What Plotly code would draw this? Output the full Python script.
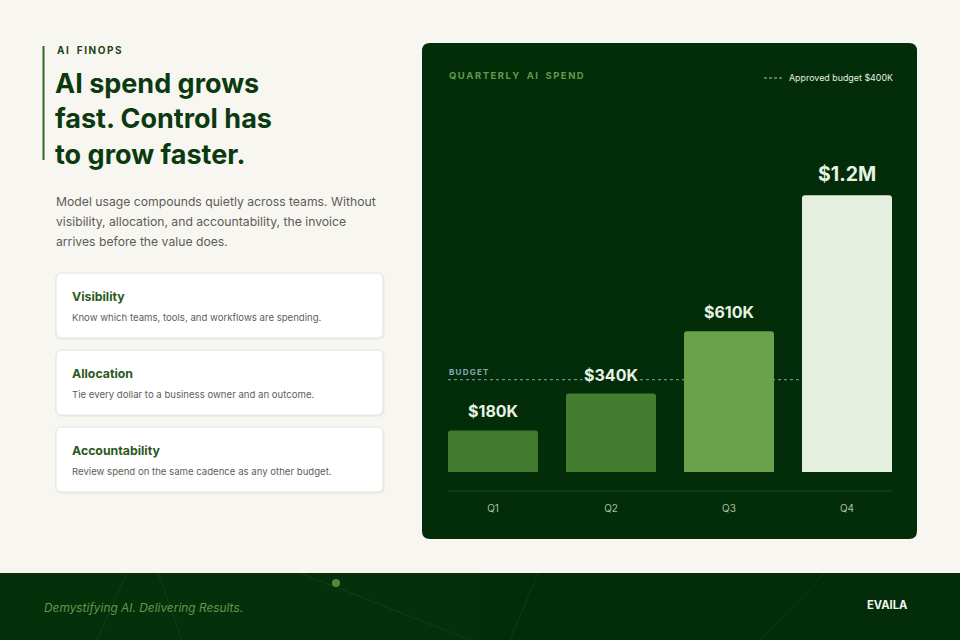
import plotly.graph_objects as go

# ---- data ----
quarters = ["Q1", "Q2", "Q3", "Q4"]
spend_k = [180, 340, 610, 1200]
spend_labels = ["$180K", "$340K", "$610K", "$1.2M"]
label_sizes = [16, 16, 16, 19.5]
budget_k = 400
bar_colors = ["#417a2e", "#437d2f", "#6aa24b", "#e4efdf"]

cards = [
    ("Visibility", "Know which teams, tools, and workflows are spending."),
    ("Allocation", "Tie every dollar to a business owner and an outcome."),
    ("Accountability", "Review spend on the same cadence as any other budget."),
]
title_lines = ["AI spend grows", "fast. Control has", "to grow faster."]
para_lines = [
    "Model usage compounds quietly across teams. Without",
    "visibility, allocation, and accountability, the invoice",
    "arrives before the value does.",
]

W, H = 960, 640
FONT = "Inter"
PANEL = "#032d08"


def px(x):
    return x / W


def py(y):
    return 1 - y / H


def rrect(x0, y0, x1, y1, r):
    rx, ry = r / W, r / H
    X0, X1 = px(x0), px(x1)
    Y0, Y1 = py(y0), py(y1)
    return (f"M {X0+rx},{Y0} L {X1-rx},{Y0} Q {X1},{Y0} {X1},{Y0-ry} "
            f"L {X1},{Y1+ry} Q {X1},{Y1} {X1-rx},{Y1} L {X0+rx},{Y1} "
            f"Q {X0},{Y1} {X0},{Y1+ry} L {X0},{Y0-ry} Q {X0},{Y0} {X0+rx},{Y0} Z")


def spaced(s, sep):
    return sep.join(list(s)).replace(" ", "  ")


fig = go.Figure()
bw = 0.7627
fig.add_trace(go.Bar(
    x=list(range(len(quarters))), y=spend_k, width=bw,
    marker=dict(color=bar_colors, line=dict(width=0), cornerradius=3),
    hoverinfo="skip", showlegend=False,
))

shapes = []
annotations = []

# footer band
shapes.append(dict(type="rect", xref="paper", yref="paper", x0=0, x1=1, y0=0, y1=py(573),
                   fillcolor="#032c08", line=dict(width=0), layer="below"))
shapes.append(dict(type="rect", xref="paper", yref="paper", x0=px(0), x1=px(480), y0=0, y1=py(573),
                   fillcolor="rgba(10,60,15,0.25)", line=dict(width=0), layer="below"))
for (a, b, c, d) in [(127, 573, 97, 640), (158, 573, 182, 640), (300, 573, 470, 640),
                     (538, 573, 510, 640), (825, 573, 760, 640)]:
    shapes.append(dict(type="line", xref="paper", yref="paper", x0=px(a), y0=py(b), x1=px(c), y1=py(d),
                       line=dict(color="rgba(120,170,110,0.12)", width=1), layer="below"))
shapes.append(dict(type="circle", xref="paper", yref="paper", x0=px(332), x1=px(340), y0=py(579), y1=py(587),
                   fillcolor="#4f8a3c", line=dict(width=0), layer="below"))

# left accent bar
shapes.append(dict(type="rect", xref="paper", yref="paper", x0=px(42.5), x1=px(44.5), y0=py(160), y1=py(46),
                   fillcolor="#2f6a24", line=dict(width=0), layer="below"))

# cards
card_tops = [273, 350, 427]
for i, (t, d) in enumerate(cards):
    y0 = card_tops[i]
    shapes.append(dict(type="path", xref="paper", yref="paper", path=rrect(55, y0 + 1, 385, y0 + 67, 7),
                       fillcolor="rgba(0,0,0,0.035)", line=dict(width=0), layer="below"))
    shapes.append(dict(type="path", xref="paper", yref="paper", path=rrect(56, y0, 383, y0 + 65, 6),
                       fillcolor="#ffffff", line=dict(color="#e3e3de", width=1), layer="below"))
    annotations.append(dict(text=f"<b>{t}</b>", x=px(70), y=py(y0 + 23), xref="paper", yref="paper",
                            xanchor="left", yanchor="middle", showarrow=False,
                            font=dict(family=FONT, size=12.3, color="#2a5a1d")))
    annotations.append(dict(text=d, x=px(70), y=py(y0 + 44), xref="paper", yref="paper",
                            xanchor="left", yanchor="middle", showarrow=False,
                            font=dict(family=FONT, size=9.6, color="#5e5e5a")))

# chart panel
shapes.append(dict(type="path", xref="paper", yref="paper", path=rrect(422, 43, 917, 539, 8),
                   fillcolor=PANEL, line=dict(width=0), layer="below"))
# budget line
shapes.append(dict(type="line", xref="paper", yref="y", x0=px(448), x1=px(892), y0=budget_k, y1=budget_k,
                   line=dict(color="#7fa6b4", width=1, dash="3px,3px"), layer="below"))
# axis line
shapes.append(dict(type="line", xref="paper", yref="paper", x0=px(448), x1=px(892), y0=py(491), y1=py(491),
                   line=dict(color="#1d4a1c", width=1), layer="below"))
# legend dash
shapes.append(dict(type="line", xref="paper", yref="paper", x0=px(764), x1=px(782), y0=py(78), y1=py(78),
                   line=dict(color="#a9c2b0", width=1, dash="3px,2px")))

# texts left
annotations.append(dict(text=f"<b>{spaced('AI FINOPS', chr(8202) + chr(8202))}</b>",
                        x=px(55), y=py(50), xref="paper", yref="paper",
                        xanchor="left", yanchor="middle", showarrow=False,
                        font=dict(family=FONT, size=10, color="#1d4414")))
for i, line in enumerate(title_lines):
    annotations.append(dict(text=f"<b>{line}</b>", x=px(53), y=py(84 + 35 * i), xref="paper", yref="paper",
                            xanchor="left", yanchor="middle", showarrow=False,
                            font=dict(family=FONT, size=27, color="#0c3a10")))
for i, line in enumerate(para_lines):
    annotations.append(dict(text=line, x=px(54), y=py(201 + 20 * i), xref="paper", yref="paper",
                            xanchor="left", yanchor="middle", showarrow=False,
                            font=dict(family=FONT, size=12.2, color="#5c5c58")))

# chart texts
annotations.append(dict(text=f"<b>{spaced('QUARTERLY AI SPEND', chr(8202) + chr(8202))}</b>",
                        x=px(447), y=py(75), xref="paper", yref="paper",
                        xanchor="left", yanchor="middle", showarrow=False,
                        font=dict(family=FONT, size=9.5, color="#5f9a48")))
annotations.append(dict(text=f"Approved budget ${budget_k}K", x=px(787), y=py(78), xref="paper", yref="paper",
                        xanchor="left", yanchor="middle", showarrow=False,
                        font=dict(family=FONT, size=8.9, color="#e6efe2")))
annotations.append(dict(text=f"<b>{spaced('BUDGET', chr(8202) + chr(8202))}</b>", x=px(447), y=budget_k,
                        xref="paper", yref="y", xanchor="left", yanchor="bottom", yshift=1, showarrow=False,
                        font=dict(family=FONT, size=8, color="#8aaabb")))
for i, (v, lab) in enumerate(zip(spend_k, spend_labels)):
    annotations.append(dict(text=f"<b>{lab}</b>", x=i, y=v, xref="x", yref="y",
                            xanchor="center", yanchor="bottom", yshift=7, showarrow=False,
                            bgcolor=PANEL, borderpad=1,
                            font=dict(family=FONT, size=label_sizes[i], color="#e8f2e4")))

# footer texts
annotations.append(dict(text="<i>Demystifying AI. Delivering Results.</i>", x=px(42), y=py(607),
                        xref="paper", yref="paper", xanchor="left", yanchor="middle", showarrow=False,
                        font=dict(family=FONT, size=11.9, color="#5f9a48")))
annotations.append(dict(text="<b>EVAILA</b>", x=px(910), y=py(605), xref="paper", yref="paper",
                        xanchor="right", yanchor="middle", showarrow=False,
                        font=dict(family=FONT, size=11.2, color="#f2f5ee")))

fig.update_layout(
    width=W, height=H, margin=dict(l=0, r=0, t=0, b=0),
    paper_bgcolor="#f8f6f1", plot_bgcolor="rgba(0,0,0,0)",
    shapes=shapes, annotations=annotations, showlegend=False,
    xaxis=dict(domain=[px(448), px(892)], range=[-bw / 2, 3 + bw / 2],
               tickvals=list(range(len(quarters))), ticktext=quarters,
               ticks="outside", ticklen=27, tickcolor="rgba(0,0,0,0)",
               showgrid=False, zeroline=False, showline=False, fixedrange=True,
               tickfont=dict(family=FONT, size=10, color="#a8c0a0")),
    yaxis=dict(domain=[py(472), py(149)], range=[0, 1400], visible=False, fixedrange=True),
    font=dict(family=FONT),
)

fig.write_html("out.html", config={"displayModeBar": False},
               post_script="document.body.style.margin='0';document.body.style.background='#f8f6f1';")
